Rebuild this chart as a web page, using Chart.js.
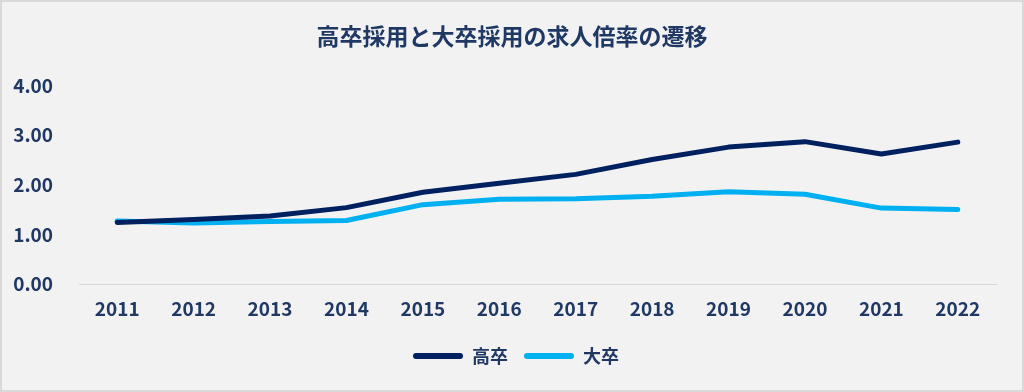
<!DOCTYPE html>
<html lang="ja">
<head>
<meta charset="utf-8">
<script src="https://cdn.jsdelivr.net/npm/chart.js@4.4.1/dist/chart.umd.min.js"></script>
<style>
  html, body { margin: 0; padding: 0; background: #f2f2f2; }
  canvas { display: block; }
</style>
</head>
<body>
<canvas id="c" width="1024" height="392"></canvas>
<script>
const categories = ['2011','2012','2013','2014','2015','2016','2017','2018','2019','2020','2021','2022'];
const highSchool = [1.24, 1.30, 1.37, 1.54, 1.85, 2.03, 2.21, 2.51, 2.76, 2.87, 2.62, 2.86];
const university = [1.27, 1.23, 1.26, 1.28, 1.60, 1.71, 1.72, 1.77, 1.86, 1.81, 1.53, 1.50];
const seriesNames = ['高卒', '大卒'];
const yTicks = [0, 1, 2, 3, 4];
const titleText = '高卒採用と大卒採用の求人倍率の遷移';

const navy = '#002060';
const sky = '#00b0f0';
const textColor = '#1f3864';
const fontFamily = "'Noto Sans CJK JP', 'Noto Sans', sans-serif";

const bgPlugin = {
  id: 'bg',
  beforeDraw(chart) {
    const ctx = chart.ctx;
    ctx.save();
    ctx.fillStyle = '#f2f2f2';
    ctx.fillRect(0, 0, chart.width, chart.height);
    ctx.strokeStyle = '#d9d9d9';
    ctx.lineWidth = 2;
    ctx.strokeRect(1, 1, chart.width - 2, chart.height - 2);
    ctx.restore();
  }
};

// Center title and legend over the full canvas width
const centerPlugin = {
  id: 'centerBlocks',
  afterLayout(chart) {
    if (chart.titleBlock) { chart.titleBlock.left = 0; chart.titleBlock.right = chart.width; }
    if (chart.legend) { chart.legend.left = 4; chart.legend.right = chart.width + 4; }
  }
};

new Chart(document.getElementById('c'), {
  type: 'line',
  data: {
    labels: categories,
    datasets: [
      { label: seriesNames[0], data: highSchool, borderColor: navy, backgroundColor: navy,
        borderWidth: 5, pointRadius: 0, borderCapStyle: 'round', borderJoinStyle: 'round', tension: 0 },
      { label: seriesNames[1], data: university, borderColor: sky, backgroundColor: sky,
        borderWidth: 5, pointRadius: 0, borderCapStyle: 'round', borderJoinStyle: 'round', tension: 0 }
    ]
  },
  options: {
    responsive: false,
    animation: false,
    devicePixelRatio: 1,
    layout: { padding: { left: 8, right: 28, top: 0, bottom: 17 } },
    plugins: {
      title: {
        display: true,
        text: titleText,
        color: textColor,
        font: { family: fontFamily, size: 23, weight: 'bold' },
        padding: { top: 22, bottom: 36 }
      },
      legend: {
        position: 'bottom',
        labels: {
          color: textColor,
          font: { family: fontFamily, size: 18, weight: 'bold' },
          boxWidth: 50,
          boxHeight: 6,
          useBorderRadius: true,
          borderRadius: 3,
          padding: 16,
          generateLabels(chart) {
            return Chart.defaults.plugins.legend.labels.generateLabels(chart)
              .map(l => Object.assign(l, { lineWidth: 0 }));
          }
        }
      },
      tooltip: { enabled: false }
    },
    scales: {
      x: {
        offset: true,
        grid: { display: false, drawTicks: false },
        border: { display: true, color: '#d9d9d9', width: 1 },
        ticks: { color: textColor, font: { family: fontFamily, size: 19, weight: 'bold' }, padding: 13 },
        afterFit(s) { s.height = 47; }
      },
      y: {
        min: 0, max: 4,
        afterBuildTicks(scale) { scale.ticks = yTicks.map(v => ({ value: v })); },
        grid: { display: false, drawTicks: false },
        border: { display: false },
        ticks: {
          color: textColor,
          font: { family: fontFamily, size: 19, weight: 'bold' },
          padding: 26,
          callback: v => Number(v).toFixed(2)
        },
        afterFit(s) { s.width = 71; }
      }
    }
  },
  plugins: [bgPlugin, centerPlugin]
});
</script>
</body>
</html>
